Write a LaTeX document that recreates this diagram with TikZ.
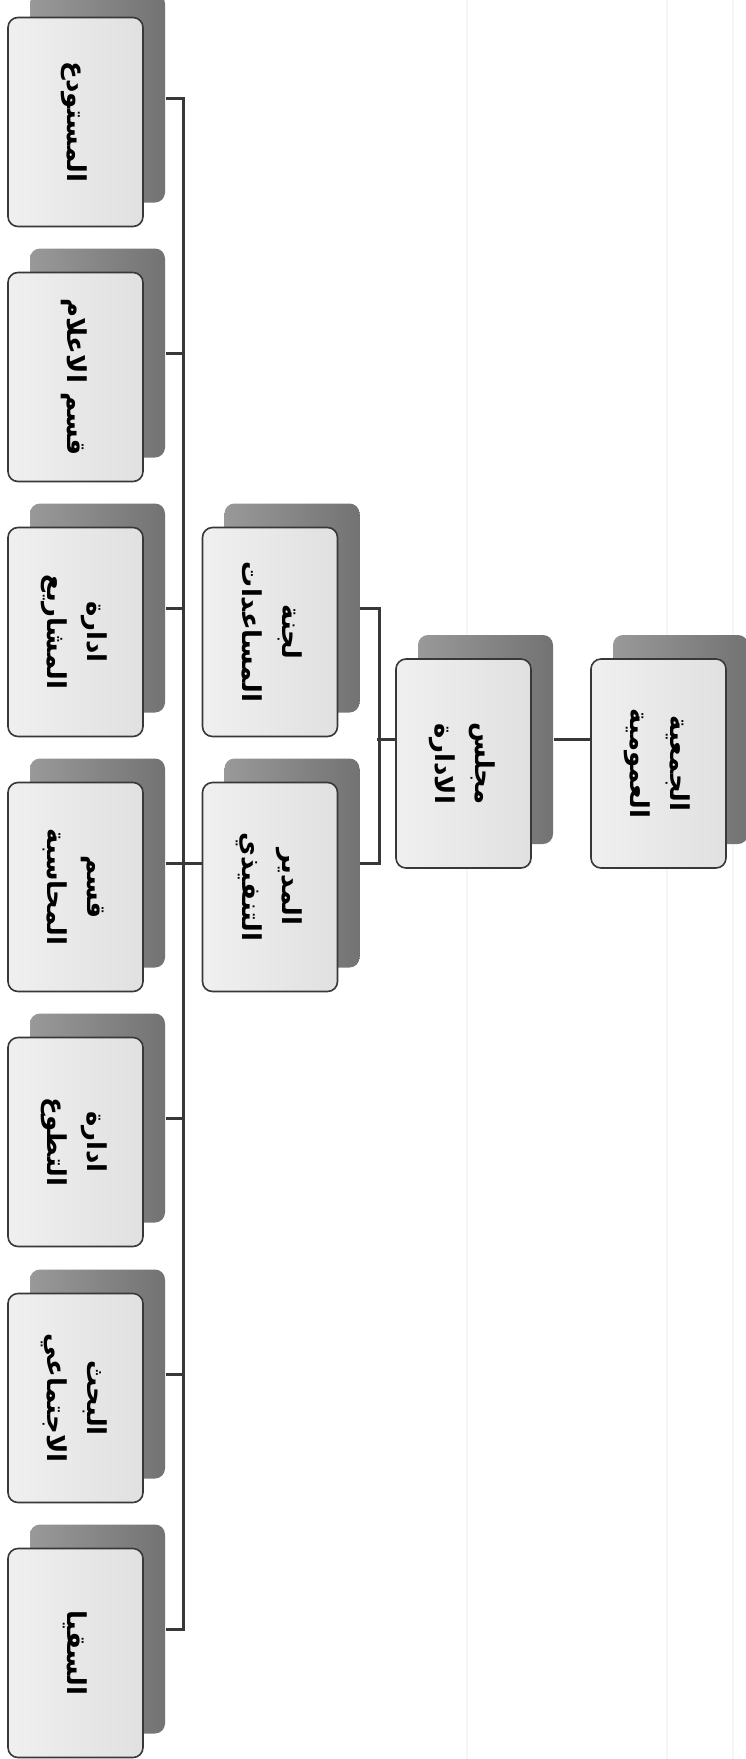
\documentclass[tikz,border=0pt]{standalone}
\usepackage{fontspec}
\newfontfamily\arabicfont[Script=Arabic]{DejaVu Sans}
\TeXXeTstate=1
\usetikzlibrary{
shadows
}
\newcommand{\rl}[1]{\beginR#1\endR}
\newcommand{\unitname}[1]{\rotatebox{-90}{\arabicfont\bfseries\begin{tabular}{@{}c@{}}#1\end{tabular}}}

\begin{document}
\begin{tikzpicture}[
        x = 1pt,
        y = -1pt,
        unit box/.style={
          rectangle,
          rounded corners = 10pt,
          minimum width = 135pt,
          minimum height = 209pt,
          inner sep = 0pt,
          draw = black!78,
          line width = 1.6pt,
          left color = black!6,
          right color = black!12,
          general shadow = {
            draw = none,
            shadow xshift = 22pt,
            shadow yshift = 24pt,
            left color = black!40,
            right color = black!55,
          },
          font = \fontsize{26}{40}\selectfont,
        },
        link/.style={
          line width = 3pt,
          draw = black!78,
        },
        paper line/.style={
          line width = 2pt,
          draw = black!4,
        },
        ]
        \fill [white] (0,0) rectangle (745,1759);
        \useasboundingbox (0,0) rectangle (745,1759);
        \draw [paper line] (467,0) -- (467,1759);
        \draw [paper line] (667,0) -- (667,1759);
        \draw [paper line] (733,0) -- (733,1759);

        \node [unit box] (node-assembly) at (658.5,763.5) {\unitname{\rl{الجمعية}\\\rl{العمومية}}};
        \node [unit box] (node-board) at (463.5,763.5) {\unitname{\rl{مجلس}\\\rl{الادارة}}};
        \node [unit box] (node-aid) at (270,632) {\unitname{\rl{لجنة}\\\rl{المساعدات}}};
        \node [unit box] (node-director) at (270,887) {\unitname{\rl{المدير}\\\rl{التنفيذي}}};

        \node [unit box] (node-store) at (75.5,122) {\unitname{\rl{المستودع}}};
        \node [unit box] (node-media) at (75.5,377) {\unitname{\rl{قسم الاعلام}}};
        \node [unit box] (node-projects) at (75.5,632) {\unitname{\rl{ادارة}\\\rl{المشاريع}}};
        \node [unit box] (node-accounts) at (75.5,887) {\unitname{\rl{قسم}\\\rl{المحاسبة}}};
        \node [unit box] (node-volunteer) at (75.5,1142) {\unitname{\rl{ادارة}\\\rl{التطوع}}};
        \node [unit box] (node-social) at (75.5,1398) {\unitname{\rl{البحث}\\\rl{الاجتماعي}}};
        \node [unit box] (node-water) at (75.5,1653) {\unitname{\rl{السقيا}}};

        \draw [link] ([shift={(22,-24)}]node-board.east) -- ([shift={(0,-24)}]node-assembly.west);
        \draw [link] ([shift={(0,-24)}]node-board.west) -- ++(-18,0);
        \draw [link] ([shift={(22,-24)}]node-aid.east) -| ([shift={(41,-24)}]node-director.east)
          -- ([shift={(22,-24)}]node-director.east);
        \draw [link] ([shift={(0,-24)}]node-director.west) -- ++(-19,0);

        \draw [link] ([shift={(22,-24)}]node-store.east) -| ([shift={(40,-24)}]node-water.east)
          -- ([shift={(22,-24)}]node-water.east);
        \foreach \unit in {media,projects,accounts,volunteer,social}
          \draw [link] ([shift={(22,-24)}]node-\unit.east) -- ++(18,0);
      \end{tikzpicture}
\end{document}
